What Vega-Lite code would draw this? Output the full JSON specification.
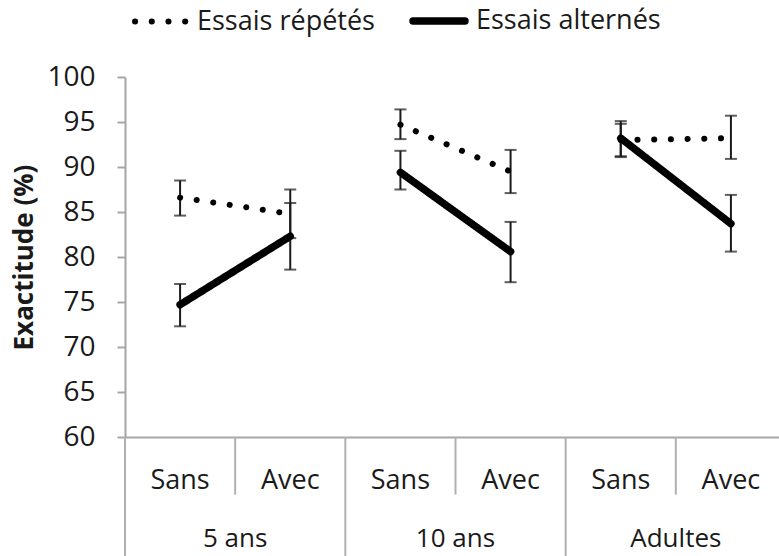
{
  "$schema": "https://vega.github.io/schema/vega-lite/v6.json",
  "width": 654,
  "height": 360,
  "autosize": {"type": "none"},
  "padding": {"left": 125, "top": 77, "right": 0, "bottom": 119},
  "config": {"view": {"stroke": null}, "font": "Open Sans", "text": {"font": "Open Sans"}},
  "data": {
    "values": [
      {"pos": "5 ans Sans", "group": "5 ans", "cond": "Sans", "series": "Essais répétés", "value": 86.6, "lo": 84.6, "hi": 88.5},
      {"pos": "5 ans Avec", "group": "5 ans", "cond": "Avec", "series": "Essais répétés", "value": 84.8, "lo": 82.1, "hi": 87.5},
      {"pos": "10 ans Sans", "group": "10 ans", "cond": "Sans", "series": "Essais répétés", "value": 94.7, "lo": 93.1, "hi": 96.4},
      {"pos": "10 ans Avec", "group": "10 ans", "cond": "Avec", "series": "Essais répétés", "value": 89.5, "lo": 87.1, "hi": 91.9},
      {"pos": "Adultes Sans", "group": "Adultes", "cond": "Sans", "series": "Essais répétés", "value": 93.0, "lo": 91.1, "hi": 94.8},
      {"pos": "Adultes Avec", "group": "Adultes", "cond": "Avec", "series": "Essais répétés", "value": 93.2, "lo": 90.9, "hi": 95.7},
      {"pos": "5 ans Sans", "group": "5 ans", "cond": "Sans", "series": "Essais alternés", "value": 74.7, "lo": 72.3, "hi": 77.0},
      {"pos": "5 ans Avec", "group": "5 ans", "cond": "Avec", "series": "Essais alternés", "value": 82.3, "lo": 78.6, "hi": 86.0},
      {"pos": "10 ans Sans", "group": "10 ans", "cond": "Sans", "series": "Essais alternés", "value": 89.4, "lo": 87.5, "hi": 91.8},
      {"pos": "10 ans Avec", "group": "10 ans", "cond": "Avec", "series": "Essais alternés", "value": 80.6, "lo": 77.2, "hi": 83.9},
      {"pos": "Adultes Sans", "group": "Adultes", "cond": "Sans", "series": "Essais alternés", "value": 93.2, "lo": 91.2, "hi": 95.1},
      {"pos": "Adultes Avec", "group": "Adultes", "cond": "Avec", "series": "Essais alternés", "value": 83.7, "lo": 80.6, "hi": 86.9}
    ]
  },
  "layer": [
    {
      "mark": {"type": "rule", "color": "#1a1a1a", "strokeWidth": 2},
      "encoding": {
        "x": {"field": "pos", "type": "nominal", "bandPosition": 0.5, "scale": {"type": "band", "domain": ["5 ans Sans", "5 ans Avec", "10 ans Sans", "10 ans Avec", "Adultes Sans", "Adultes Avec"], "range": [0, 661], "paddingInner": 0, "paddingOuter": 0},
          "axis": {"labels": false, "ticks": false, "title": null, "domainColor": "#a6a6a6", "domainWidth": 2, "grid": false}},
        "y": {"field": "lo", "type": "quantitative", "scale": {"domain": [60, 100], "nice": false, "zero": false},
          "axis": {"values": [60, 65, 70, 75, 80, 85, 90, 95, 100], "title": "Exactitude (%)", "titleFont": "Open Sans", "titleFontSize": 26, "titleFontWeight": "bold", "titleColor": "#1a1a1a", "titlePadding": 9, "labelFont": "Open Sans", "labelFontSize": 28, "labelColor": "#1a1a1a", "labelPadding": 22, "tickSize": 8, "tickColor": "#a6a6a6", "tickWidth": 2, "domainColor": "#a6a6a6", "domainWidth": 2, "grid": false}},
        "y2": {"field": "hi"}
      }
    },
    {
      "mark": {"type": "tick", "color": "#1a1a1a", "thickness": 2, "size": 12, "orient": "horizontal"},
      "encoding": {
        "x": {"field": "pos", "type": "nominal", "bandPosition": 0.5},
        "y": {"field": "lo", "type": "quantitative"}
      }
    },
    {
      "mark": {"type": "tick", "color": "#1a1a1a", "thickness": 2, "size": 12, "orient": "horizontal"},
      "encoding": {
        "x": {"field": "pos", "type": "nominal", "bandPosition": 0.5},
        "y": {"field": "hi", "type": "quantitative"}
      }
    },
    {
      "mark": {"type": "line", "color": "black", "strokeCap": "round"},
      "encoding": {
        "x": {"field": "pos", "type": "nominal", "bandPosition": 0.5},
        "y": {"field": "value", "type": "quantitative"},
        "detail": {"field": "group", "type": "nominal"},
        "strokeDash": {"field": "series", "type": "nominal",
          "scale": {"domain": ["Essais répétés", "Essais alternés"], "range": [[0.1, 16.6], [1, 0]]},
          "legend": {"orient": "none", "legendX": 7, "legendY": -86, "direction": "horizontal", "title": null, "symbolType": "stroke", "symbolSize": 2700, "symbolStrokeColor": "black", "labelFont": "Open Sans", "labelFontSize": 27, "labelColor": "#1a1a1a", "labelLimit": 400, "labelOffset": 7, "columnPadding": 23,
            "encoding": {"symbols": {"strokeCap": {"value": "round"}}}}},
        "strokeWidth": {"field": "series", "type": "nominal",
          "scale": {"domain": ["Essais répétés", "Essais alternés"], "range": [6, 7.5]},
          "legend": {"orient": "none", "legendX": 7, "legendY": -86, "direction": "horizontal", "title": null, "symbolType": "stroke", "symbolSize": 2700, "symbolStrokeColor": "black", "labelFont": "Open Sans", "labelFontSize": 27, "labelColor": "#1a1a1a", "labelLimit": 400, "labelOffset": 7, "columnPadding": 23,
            "encoding": {"symbols": {"strokeCap": {"value": "round"}}}}}
      }
    },
    {
      "transform": [{"filter": "datum.series === 'Essais répétés'"}],
      "mark": {"type": "text", "font": "Open Sans", "fontSize": 27, "color": "#1a1a1a", "baseline": "middle"},
      "encoding": {
        "x": {"field": "pos", "type": "nominal", "bandPosition": 0.5},
        "y": {"datum": 55.1},
        "text": {"field": "cond"}
      }
    },
    {
      "transform": [{"filter": "datum.series === 'Essais répétés' && datum.cond === 'Avec'"}],
      "mark": {"type": "text", "font": "Open Sans", "fontSize": 26, "color": "#1a1a1a", "baseline": "middle"},
      "encoding": {
        "x": {"field": "pos", "type": "nominal", "bandPosition": 0},
        "y": {"datum": 48.7},
        "text": {"field": "group"}
      }
    },
    {
      "transform": [{"filter": "datum.series === 'Essais répétés' && datum.cond === 'Avec'"}],
      "mark": {"type": "rule", "color": "#b0b0b0", "strokeWidth": 2},
      "encoding": {
        "x": {"field": "pos", "type": "nominal", "bandPosition": 0},
        "y": {"datum": 60},
        "y2": {"datum": 53.6}
      }
    },
    {
      "transform": [{"filter": "datum.series === 'Essais répétés' && datum.cond === 'Sans'"}],
      "mark": {"type": "rule", "color": "#b0b0b0", "strokeWidth": 2},
      "encoding": {
        "x": {"field": "pos", "type": "nominal", "bandPosition": 0},
        "y": {"datum": 60},
        "y2": {"datum": 45}
      }
    }
  ]
}
